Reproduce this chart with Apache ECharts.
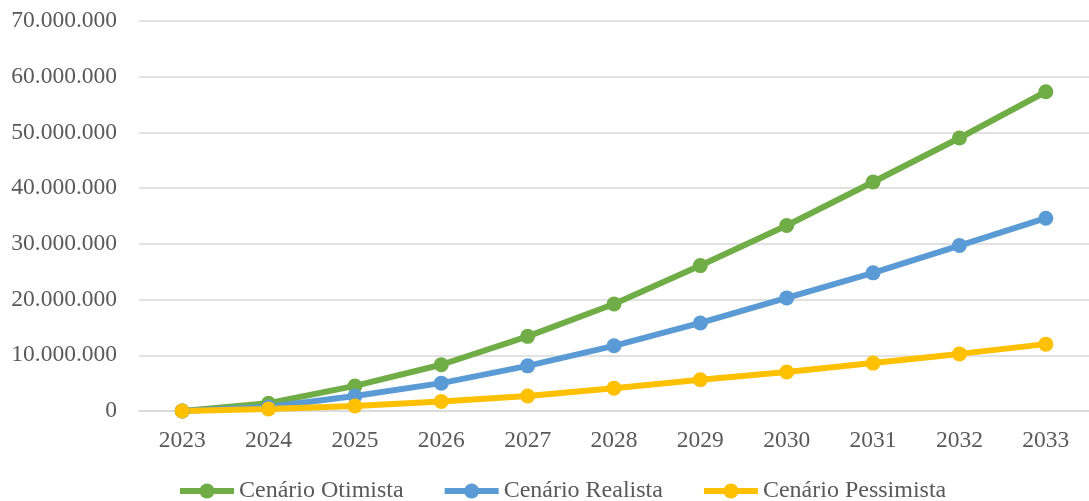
<!DOCTYPE html>
<html>
<head>
<meta charset="utf-8">
<script src="https://cdn.jsdelivr.net/npm/echarts@6/dist/echarts.min.js"></script>
<style>
  html, body { margin: 0; padding: 0; background: #fff; }
  #chart { width: 1089px; height: 501px; }
</style>
</head>
<body>
<div id="chart"></div>
<script>
  // anos e cenários (valores em unidades)
  const anos = ['2023', '2024', '2025', '2026', '2027', '2028', '2029', '2030', '2031', '2032', '2033'];
  const otimista = [0, 1400000, 4500000, 8300000, 13400000, 19200000, 26100000, 33300000, 41100000, 49000000, 57300000];
  const realista = [0, 700000, 2700000, 5000000, 8100000, 11700000, 15800000, 20300000, 24800000, 29700000, 34600000];
  const pessimista = [0, 350000, 900000, 1700000, 2700000, 4100000, 5600000, 7000000, 8600000, 10250000, 12000000];
  const nomes = ['Cenário Otimista', 'Cenário Realista', 'Cenário Pessimista'];
  const cores = ['#70AD47', '#5B9BD5', '#FFC000'];

  const fonte = '"Liberation Serif", "Times New Roman", serif';

  function fmt(v) {
    return String(v).replace(/\B(?=(\d{3})+(?!\d))/g, '.');
  }

  function serie(nome, dados, cor) {
    return {
      name: nome,
      type: 'line',
      data: dados,
      symbol: 'circle',
      symbolSize: 15,
      lineStyle: { width: 6, color: cor },
      itemStyle: { color: cor },
      emphasis: { disabled: true }
    };
  }

  const chart = echarts.init(document.getElementById('chart'));
  chart.setOption({
    animation: false,
    color: cores,
    textStyle: { fontFamily: fonte },
    grid: { left: 139, right: -8, top: 21, bottom: 90, containLabel: false },
    legend: {
      top: 474,
      left: 172,
      itemWidth: 54,
      itemHeight: 19,
      itemGap: 38,
      lineStyle: { width: 6 },
      textStyle: { fontFamily: fonte, fontSize: 24, color: '#595959' },
      data: nomes
    },
    xAxis: {
      type: 'category',
      data: anos,
      boundaryGap: true,
      axisLine: { show: true, lineStyle: { color: '#d9d9d9', width: 1.5 } },
      axisTick: { show: false },
      axisLabel: { fontFamily: fonte, fontSize: 23.5, color: '#595959', margin: 18 }
    },
    yAxis: {
      type: 'value',
      min: 0,
      max: 70000000,
      interval: 10000000,
      axisLine: { show: false },
      axisTick: { show: false },
      splitLine: { lineStyle: { color: '#d9d9d9', width: 1.5 } },
      axisLabel: { fontFamily: fonte, fontSize: 23.5, color: '#595959', margin: 22, formatter: fmt }
    },
    series: [
      serie(nomes[0], otimista, cores[0]),
      serie(nomes[1], realista, cores[1]),
      serie(nomes[2], pessimista, cores[2])
    ]
  });
</script>
</body>
</html>
